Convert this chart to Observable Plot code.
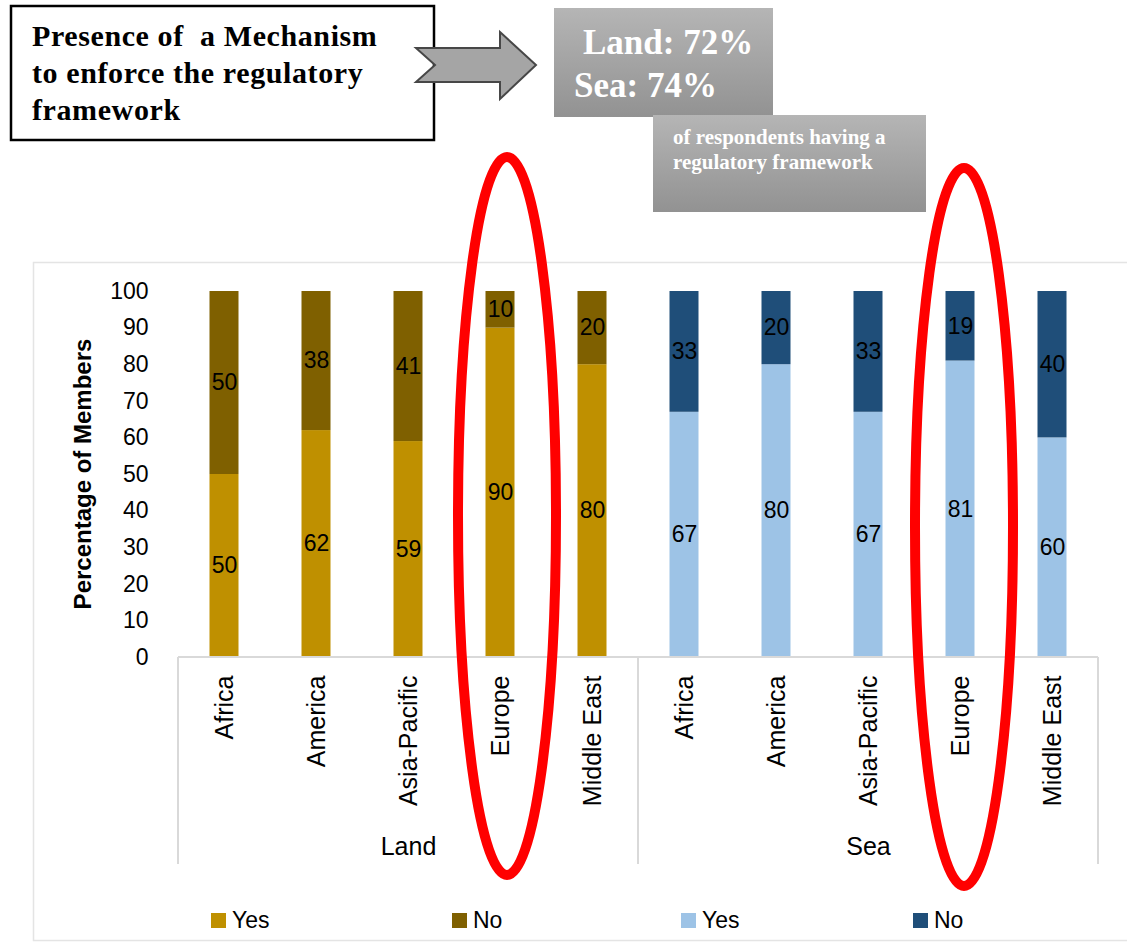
<!DOCTYPE html>
<html><head><meta charset="utf-8">
<script src="https://cdn.jsdelivr.net/npm/d3@7"></script>
<script src="https://cdn.jsdelivr.net/npm/@observablehq/plot@0.6"></script>
<style>
body{margin:0;background:#fff}
#chart{position:relative;width:1127px;height:942px;overflow:hidden}
</style>
</head><body><div id="chart"></div>
<script>
// ---- data ----
const regions = ["Africa", "America", "Asia-Pacific", "Europe", "Middle East"];
const groups = ["Land", "Sea"];
const answers = ["Yes", "No"];
const landYes = [50, 62, 59, 90, 80];
const landNo = [50, 38, 41, 10, 20];
const seaYes = [67, 80, 67, 81, 60];
const seaNo = [33, 20, 33, 19, 40];
const yTicks = [0, 10, 20, 30, 40, 50, 60, 70, 80, 90, 100];
const legendLabels = ["Yes", "No", "Yes", "No"];
const yAxisTitle = "Percentage of Members";
const titleLines = ["Presence of  a Mechanism", "to enforce the regulatory", "framework"];
const statLines = ["Land: 72%", "Sea: 74%"];
const noteLines = ["of respondents having a", "regulatory framework"];
const highlight = "Europe";

// ---- styles ----
const palette = {"Land|Yes": "#BF9000", "Land|No": "#7F6000", "Sea|Yes": "#9DC3E6", "Sea|No": "#1F4E79"};
const FONT = "'Liberation Sans', Arial, sans-serif";
const SERIF = "'Liberation Serif', 'Times New Roman', serif";

const series = {Land: {Yes: landYes, No: landNo}, Sea: {Yes: seaYes, No: seaNo}};
const rows = [], keys = [];
for (const g of groups) regions.forEach((r, i) => {
  const key = g + "|" + r; keys.push(key);
  let base = 0;
  for (const a of answers) {
    const v = series[g][a][i];
    rows.push({key, group: g, region: r, answer: a, value: v, y1: base, y2: base + v, mid: base + v / 2, color: palette[g + "|" + a]});
    base += v;
  }
});
const groupLabels = groups.map(g => ({group: g, key: g + "|" + regions[Math.floor(regions.length / 2)]}));

const plot = Plot.plot({
  width: 1127, height: 942,
  marginTop: 291, marginBottom: 285, marginLeft: 173, marginRight: 25,
  style: {fontFamily: FONT, fontSize: "23px", color: "#000", background: "transparent", overflow: "visible"},
  x: {domain: keys, padding: 0, axis: null},
  y: {domain: [0, 100], axis: null},
  color: {type: "identity"},
  marks: [
    Plot.barY(rows, {x: "key", y1: "y1", y2: "y2", fill: "color", insetLeft: 31.5, insetRight: 31.5}),
    Plot.text(rows, {x: "key", y: "mid", text: d => String(d.value), fill: "#000", fontSize: 23}),
    Plot.axisY({ticks: yTicks, tickSize: 0, tickPadding: 25, label: null, fontSize: 23}),
    Plot.axisX({ticks: keys, tickSize: 0, tickPadding: 18, tickRotate: -90, tickFormat: k => k.split("|")[1], label: null, fontSize: 25}),
    Plot.text(groupLabels, {x: "key", text: "group", frameAnchor: "bottom", dy: 197, fontSize: 25, fill: "#000"})
  ]
});
document.getElementById("chart").appendChild(plot);

const svg = d3.select(plot);
const xs = plot.scale("x"), ys = plot.scale("y");
const bw = xs.bandwidth;
const y0 = ys.apply(0);

// chart area border (behind)
svg.insert("rect", ":first-child")
  .attr("x", 33.5).attr("y", 262.5).attr("width", 1120).attr("height", 678)
  .attr("fill", "#fff").attr("stroke", "#e4e4e4").attr("stroke-width", 1.5);

// category axis lines
const axG = svg.append("g").attr("stroke", "#d9d9d9").attr("stroke-width", 2);
const xStart = xs.apply(keys[0]);
const xEnd = xs.apply(keys[keys.length - 1]) + bw;
axG.append("line").attr("x1", xStart).attr("x2", xEnd).attr("y1", y0).attr("y2", y0);
const bounds = [xStart, ...groups.slice(1).map(g => xs.apply(g + "|" + regions[0])), xEnd];
bounds.forEach(x => axG.append("line").attr("x1", x).attr("x2", x).attr("y1", y0).attr("y2", 864));

// overlay group with left-anchored text
const ov = svg.append("g").attr("text-anchor", "start");

// y axis title
ov.append("text").text(yAxisTitle)
  .attr("transform", `translate(91,${(ys.apply(0) + ys.apply(100)) / 2}) rotate(-90)`)
  .attr("text-anchor", "middle").attr("font-family", FONT).attr("font-weight", "bold")
  .attr("font-size", 24).attr("fill", "#000");

// gradient
const defs = svg.append("defs");
const grad = defs.append("linearGradient").attr("id", "gbox").attr("x1", 0).attr("x2", 0).attr("y1", 0).attr("y2", 1);
grad.append("stop").attr("offset", "0%").attr("stop-color", "#b5b5b5");
grad.append("stop").attr("offset", "100%").attr("stop-color", "#929292");

// title box
ov.append("rect").attr("x", 11).attr("y", 6).attr("width", 423).attr("height", 134)
  .attr("fill", "#fff").attr("stroke", "#000").attr("stroke-width", 2.5);
titleLines.forEach((t, i) => ov.append("text").text(t).attr("x", 32).attr("y", 46 + i * 37)
  .attr("font-family", SERIF).attr("font-weight", "bold").attr("font-size", 30)
  .attr("letter-spacing", 0.6).attr("fill", "#000")
  .style("white-space", "pre"));

// arrow
ov.append("polygon")
  .attr("points", "416,48 500,48 500,32 536,65 500,99 500,82 416,82 435,65")
  .attr("fill", "#a5a5a5").attr("stroke", "#474747").attr("stroke-width", 2).attr("stroke-linejoin", "miter");

// stat box
ov.append("rect").attr("x", 554).attr("y", 8).attr("width", 219).attr("height", 109).attr("fill", "url(#gbox)");
statLines.forEach((t, i) => ov.append("text").text(t).attr("x", i === 0 ? 583 : 574).attr("y", 54 + i * 43)
  .attr("font-family", SERIF).attr("font-weight", "bold").attr("font-size", 35).attr("fill", "#fff"));

// note box
ov.append("rect").attr("x", 653).attr("y", 115).attr("width", 273).attr("height", 97).attr("fill", "url(#gbox)");
noteLines.forEach((t, i) => ov.append("text").text(t).attr("x", 673).attr("y", 144 + i * 25)
  .attr("font-family", SERIF).attr("font-weight", "bold").attr("font-size", 21).attr("fill", "#fff"));

// highlight ellipses
groups.forEach((g, gi) => {
  const cx = xs.apply(g + "|" + highlight) + bw / 2 + (gi === 0 ? 7 : 4);
  ov.append("ellipse").attr("cx", cx).attr("cy", gi === 0 ? 516 : 527).attr("rx", 49).attr("ry", 359)
    .attr("fill", "none").attr("stroke", "#ff0000").attr("stroke-width", 10);
});

// legend
const legendX = [211, 452, 681, 913];
const legendColors = groups.flatMap(g => answers.map(a => palette[g + "|" + a]));
legendLabels.forEach((lab, i) => {
  ov.append("rect").attr("x", legendX[i]).attr("y", 913).attr("width", 15).attr("height", 15).attr("fill", legendColors[i]);
  ov.append("text").text(lab).attr("x", legendX[i] + 21).attr("y", 928)
    .attr("font-family", FONT).attr("font-size", 23).attr("fill", "#000");
});
</script>
</body></html>
